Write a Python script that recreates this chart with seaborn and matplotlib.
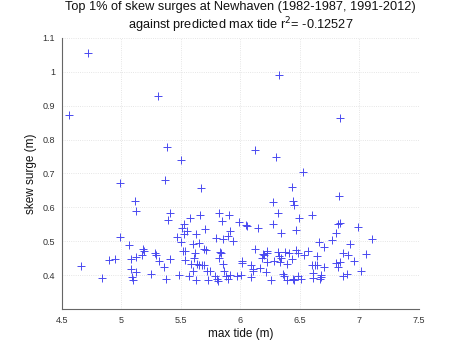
import numpy as np
import pandas as pd
import matplotlib
matplotlib.use("Agg")
import matplotlib.pyplot as plt
import seaborn as sns

max_tide = [
    4.561, 4.718, 5.304, 5.380, 5.497, 4.987, 5.368, 5.666, 6.321, 6.836, 6.124, 6.301, 6.528, 6.435, 6.830,
    5.116, 5.122, 4.987, 5.066, 5.180, 5.190, 5.175, 5.122, 5.077, 4.948, 4.898, 4.662, 5.083, 5.125, 5.088, 5.100, 4.839,
    5.408, 5.388, 5.662, 5.578, 5.817, 5.845, 5.528, 5.506, 5.548, 5.528, 5.629, 5.699, 5.464, 5.794, 5.850, 5.892,
    5.912, 5.940, 5.500, 5.603, 5.651, 5.696, 5.713, 5.517, 5.531, 5.618, 5.825, 5.839, 5.281, 5.292, 5.612, 5.408,
    5.534, 5.318, 5.822, 5.584, 5.634, 5.651, 5.674, 5.691, 5.850, 5.354, 5.718, 5.746, 5.598, 5.861, 5.245, 5.481,
    5.565, 5.786, 5.881, 5.914, 5.892, 5.376, 5.629, 5.727, 5.803, 5.814,
    6.270, 6.438, 6.447, 6.315, 6.603, 6.494, 5.987, 6.044, 6.057, 6.147, 6.270, 6.343, 6.466, 5.900, 6.124, 6.186,
    6.200, 6.180, 6.220, 6.225, 6.313, 6.326, 6.338, 6.374, 6.410, 6.469, 6.486, 6.534, 6.567, 6.220, 6.284, 6.332,
    6.433, 6.393, 6.013, 6.013, 6.091, 6.102, 6.102, 6.164, 6.212, 5.968, 6.004, 6.091, 6.355, 6.366, 6.388, 6.438,
    6.450, 6.256, 6.486, 6.506, 6.603, 6.626, 6.645, 6.645, 6.662, 6.610, 6.612,
    6.822, 6.839, 6.985, 6.800, 6.772, 7.105, 6.918, 6.704, 6.861, 6.906, 7.055, 6.956, 6.805, 6.833, 6.822, 6.704,
    7.013, 6.676, 6.676, 6.671, 6.861, 6.895,
]
skew_surge = [
    0.873, 1.054, 0.929, 0.779, 0.741, 0.671, 0.682, 0.657, 0.991, 0.862, 0.768, 0.750, 0.705, 0.660, 0.634,
    0.619, 0.589, 0.513, 0.489, 0.478, 0.472, 0.460, 0.454, 0.448, 0.448, 0.444, 0.428, 0.418, 0.410, 0.396, 0.386, 0.391,
    0.583, 0.564, 0.579, 0.569, 0.583, 0.560, 0.550, 0.538, 0.531, 0.521, 0.523, 0.536, 0.513, 0.510, 0.506, 0.516,
    0.531, 0.500, 0.497, 0.492, 0.495, 0.479, 0.476, 0.473, 0.473, 0.465, 0.470, 0.466, 0.466, 0.460, 0.451, 0.448,
    0.445, 0.442, 0.450, 0.434, 0.434, 0.431, 0.429, 0.429, 0.433, 0.426, 0.412, 0.412, 0.413, 0.412, 0.404, 0.400,
    0.399, 0.399, 0.397, 0.400, 0.389, 0.389, 0.387, 0.386, 0.389, 0.384,
    0.615, 0.619, 0.607, 0.583, 0.578, 0.570, 0.557, 0.548, 0.544, 0.540, 0.552, 0.526, 0.533, 0.578, 0.478, 0.464,
    0.460, 0.452, 0.473, 0.466, 0.470, 0.456, 0.452, 0.470, 0.467, 0.476, 0.465, 0.461, 0.473, 0.440, 0.442, 0.439,
    0.449, 0.432, 0.442, 0.436, 0.431, 0.419, 0.413, 0.421, 0.411, 0.397, 0.401, 0.396, 0.405, 0.399, 0.387, 0.389,
    0.385, 0.387, 0.399, 0.390, 0.431, 0.431, 0.431, 0.456, 0.499, 0.391, 0.406,
    0.551, 0.554, 0.542, 0.524, 0.505, 0.506, 0.493, 0.484, 0.467, 0.459, 0.464, 0.443, 0.437, 0.440, 0.425, 0.425,
    0.412, 0.402, 0.395, 0.389, 0.399, 0.403,
]

x_ticks = [4.5, 5, 5.5, 6, 6.5, 7, 7.5]
x_tick_labels = ["4.5", "5", "5.5", "6", "6.5", "7", "7.5"]
y_ticks = [0.4, 0.5, 0.6, 0.7, 0.8, 0.9, 1.0, 1.1]
y_tick_labels = ["0.4", "0.5", "0.6", "0.7", "0.8", "0.9", "1", "1.1"]

df = pd.DataFrame({"max tide (m)": max_tide, "skew surge (m)": skew_surge})

sns.set_style("white")
plt.rcParams["font.family"] = ["Liberation Sans", "DejaVu Sans"]

fig = plt.figure(figsize=(4.65, 3.5), dpi=100)
ax = fig.add_axes([0.1333, 0.1163, 0.7677, 0.776])

mcol = "#4a4af0"
sns.scatterplot(data=df, x="max tide (m)", y="skew surge (m)", marker="+",
                color=mcol, edgecolor=mcol, facecolor=mcol, s=26,
                linewidth=0.7, ax=ax, legend=False)

ax.set_xlim(4.5, 7.5)
ax.set_ylim(0.3, 1.1)
ax.set_xticks(x_ticks)
ax.set_xticklabels(x_tick_labels)
ax.set_yticks(y_ticks)
ax.set_yticklabels(y_tick_labels)
ax.tick_params(direction="in", length=2.5, width=0.6, labelsize=6.5,
               colors="#333333", pad=5)
ax.grid(True, color="#dddddd", linestyle=":", linewidth=0.6)
ax.set_axisbelow(True)
for s in ["top", "right"]:
    ax.spines[s].set_visible(False)
for s in ["left", "bottom"]:
    ax.spines[s].set_color("#666666")
    ax.spines[s].set_linewidth(0.8)

ax.set_xlabel("max tide (m)", fontsize=8.5, labelpad=2, color="#111111")
ax.set_ylabel("skew surge (m)", fontsize=8.5, labelpad=4, color="#111111")
ax.set_title("Top 1% of skew surges at Newhaven (1982-1987, 1991-2012)\n"
             "against predicted max tide r$^2$= -0.12527", fontsize=9.2, pad=6,
             linespacing=1.2, color="#111111")

fig.savefig("out.png", dpi=100)
